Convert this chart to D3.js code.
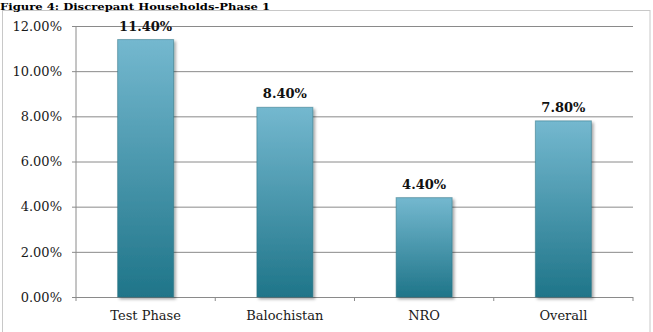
<!DOCTYPE html>
<meta charset="utf-8">
<script src="https://d3js.org/d3.v7.min.js"></script>
<style>
  body { margin: 0; background: #fff; }
  text { font-family: "DejaVu Serif", serif; }
</style>
<div id="my_dataviz"></div>
<script>
  // chart data
  var categories = ["Test Phase", "Balochistan", "NRO", "Overall"];
  var values = [11.4, 8.4, 4.4, 7.8];
  var yTicks = [0, 2, 4, 6, 8, 10, 12];
  var title = "Figure 4: Discrepant Households-Phase 1";

  var W = 653, H = 332;
  var margin = {top: 26, right: 20, bottom: 35, left: 76},
      width = 633 - margin.left,
      height = 297 - margin.top;

  var svg = d3.select("#my_dataviz")
    .append("svg")
      .attr("width", W)
      .attr("height", H);

  var defs = svg.append("defs");
  var grad = defs.append("linearGradient")
      .attr("id", "barGrad")
      .attr("x1", 0).attr("y1", 0).attr("x2", 0).attr("y2", 1);
  grad.append("stop").attr("offset", "0%").attr("stop-color", "#74b8cf");
  grad.append("stop").attr("offset", "100%").attr("stop-color", "#1f7589");

  var shadow = defs.append("filter").attr("id", "shadow")
      .attr("x", "-20%").attr("y", "-10%").attr("width", "150%").attr("height", "130%");
  shadow.append("feDropShadow")
      .attr("dx", 2).attr("dy", 2).attr("stdDeviation", 1.5)
      .attr("flood-color", "#000").attr("flood-opacity", 0.35);

  // outer frame
  svg.append("rect")
      .attr("x", 2.5).attr("y", 10.5)
      .attr("width", 647.5).attr("height", 330)
      .attr("fill", "none")
      .attr("stroke", "#c8c8c8");

  // title
  svg.append("text")
      .attr("x", 0).attr("y", 9.5)
      .attr("font-weight", "bold")
      .attr("font-size", 10)
      .attr("textLength", 270)
      .attr("lengthAdjust", "spacingAndGlyphs")
      .text(title);

  var g = svg.append("g")
      .attr("transform", "translate(" + margin.left + "," + margin.top + ")");

  var y = d3.scaleLinear()
    .domain([0, 12])
    .range([height, 0]);

  // gridlines + left ticks
  g.append("g")
    .call(d3.axisLeft(y)
      .tickValues(yTicks)
      .tickSize(-width - 4)
      .tickPadding(10)
      .tickFormat(function(d) { return d.toFixed(2) + "%"; }))
    .call(function(a) {
      a.select(".domain").remove();
      a.selectAll(".tick line")
        .attr("x1", -4).attr("x2", width)
        .attr("stroke", "#8a8a8a");
      a.selectAll(".tick text")
        .attr("x", -14)
        .attr("font-size", 13)
        .attr("fill", "#1a1a1a");
    });

  // vertical axis line
  g.append("line")
    .attr("x1", 0).attr("x2", 0)
    .attr("y1", 0).attr("y2", height)
    .attr("stroke", "#8a8a8a");

  // category axis with boundary ticks
  var xb = d3.scaleLinear().domain([0, categories.length]).range([0, width]);
  g.append("g")
    .attr("transform", "translate(0," + height + ")")
    .selectAll("line")
    .data(d3.range(categories.length + 1))
    .enter()
    .append("line")
      .attr("x1", function(d) { return xb(d); })
      .attr("x2", function(d) { return xb(d); })
      .attr("y1", 0).attr("y2", 4)
      .attr("stroke", "#8a8a8a");

  g.selectAll(".cat")
    .data(categories)
    .enter()
    .append("text")
      .attr("x", function(d, i) { return xb(i + 0.5); })
      .attr("y", height + 23)
      .attr("text-anchor", "middle")
      .attr("font-size", 13)
      .attr("fill", "#1a1a1a")
      .text(function(d) { return d; });

  // Bars
  var barW = 56;
  g.selectAll(".bar")
    .data(values)
    .enter()
    .append("rect")
      .attr("x", function(d, i) { return xb(i + 0.5) - barW / 2; })
      .attr("y", function(d) { return y(d); })
      .attr("width", barW)
      .attr("height", function(d) { return height - y(d); })
      .attr("fill", "url(#barGrad)")
      .attr("stroke", "#2a6f80")
      .attr("stroke-opacity", 0.5)
      .attr("filter", "url(#shadow)");

  // value labels
  g.selectAll(".val")
    .data(values)
    .enter()
    .append("text")
      .attr("x", function(d, i) { return xb(i + 0.5); })
      .attr("y", function(d) { return y(d) - 9; })
      .attr("text-anchor", "middle")
      .attr("font-size", 13)
      .attr("font-weight", "bold")
      .attr("fill", "#111")
      .text(function(d) { return d.toFixed(2) + "%"; });
</script>
